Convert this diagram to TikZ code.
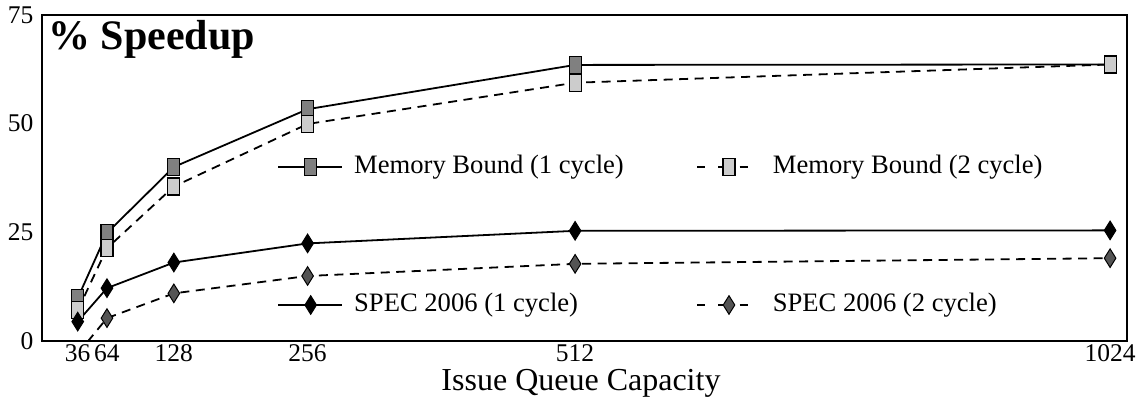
\documentclass[tikz,border=0pt]{standalone}
\usepackage{fontspec}
\setmainfont{Liberation Serif}
\usetikzlibrary{shapes.geometric}
\definecolor{sqdark}{gray}{0.5}
\definecolor{sqlight}{gray}{0.8}
\definecolor{dmdark}{gray}{0.33}
\tikzset{
  solidser/.style={line width=1.8pt, line join=round},
  dashser/.style={line width=1.8pt, dash pattern=on 9pt off 6.5pt},
  legdash/.style={line width=1.8pt, dash pattern=on 8.3pt off 13pt},
  sqmark/.style={rectangle, draw=black, line width=1.2pt, minimum width=12pt,
                 minimum height=17pt, inner sep=0pt},
  sqone/.style={sqmark, fill=sqdark},
  sqtwo/.style={sqmark, fill=sqlight},
  dmmark/.style={diamond, draw=black, line width=1pt, minimum width=12pt,
                 minimum height=19pt, inner sep=0pt},
  dmone/.style={dmmark, fill=black},
  dmtwo/.style={dmmark, fill=dmdark},
  ticklbl/.style={font=\fontsize{25.5}{29}\selectfont, inner sep=0pt},
  leglbl/.style={font=\fontsize{26.6}{30}\selectfont, anchor=west, inner sep=0pt},
  frameline/.style={line width=2pt}
}
\begin{document}
\begin{tikzpicture}[x=1pt,y=1pt]
\useasboundingbox[fill=white] (0,0) rectangle (1145,404);

% plot frame corners
\coordinate (fsw) at (41.7,63.3);
\coordinate (fne) at (1126.7,389);

\begin{scope}
\clip (fsw) rectangle (fne);
\begin{scope}[shift={(40.1,63.3)}, x=1.0449pt, y=4.343pt]
  % Memory Bound (1 cycle)
  \coordinate (ma1) at (36,9.8);
  \coordinate (ma2) at (64,24.8);
  \coordinate (ma3) at (128,40.0);
  \coordinate (ma4) at (256,53.3);
  \coordinate (ma5) at (512,63.5);
  \coordinate (ma6) at (1024,63.6);
  % Memory Bound (2 cycle)
  \coordinate (mb1) at (36,7.0);
  \coordinate (mb2) at (64,21.3);
  \coordinate (mb3) at (128,35.5);
  \coordinate (mb4) at (256,49.9);
  \coordinate (mb5) at (512,59.4);
  \coordinate (mb6) at (1024,63.6);
  % SPEC 2006 (1 cycle)
  \coordinate (sa1) at (36,4.4);
  \coordinate (sa2) at (64,12.1);
  \coordinate (sa3) at (128,18.0);
  \coordinate (sa4) at (256,22.4);
  \coordinate (sa5) at (512,25.3);
  \coordinate (sa6) at (1024,25.4);
  % SPEC 2006 (2 cycle)
  \coordinate (sb1) at (36,-3.0);
  \coordinate (sb2) at (64,5.2);
  \coordinate (sb3) at (128,10.9);
  \coordinate (sb4) at (256,14.9);
  \coordinate (sb5) at (512,17.7);
  \coordinate (sb6) at (1024,19.0);

  % series lines
  \draw[solidser] (ma1) -- (ma2) -- (ma3) -- (ma4) -- (ma5) -- (ma6);
  \draw[dashser]  (mb1) -- (mb2) -- (mb3) -- (mb4) -- (mb5) -- (mb6);
  \draw[solidser] (sa1) -- (sa2) -- (sa3) -- (sa4) -- (sa5) -- (sa6);
  \draw[dashser]  (sb1) -- (sb2) -- (sb3) -- (sb4) -- (sb5) -- (sb6);

  % markers
  \foreach \p in {ma1,ma2,ma3,ma4,ma5,ma6} \node[sqone] (k\p) at (\p) {};
  \foreach \p in {mb1,mb2,mb3,mb4,mb5,mb6} \node[sqtwo] (k\p) at (\p) {};
  \foreach \p in {sb1,sb2,sb3,sb4,sb5,sb6} \node[dmtwo] (k\p) at (\p) {};
  \foreach \p in {sa1,sa2,sa3,sa4,sa5,sa6} \node[dmone] (k\p) at (\p) {};
\end{scope}
\end{scope}

% frame
\draw[frameline] (fsw) rectangle (fne);

% axis tick labels
\begin{scope}[shift={(40.1,63.3)}, x=1.0449pt, y=4.343pt]
  \foreach \v in {0,25,50,75}
    \node[ticklbl, anchor=east, xshift=-6.6pt] (yl\v) at (0,\v) {\v};
  \foreach \c in {36,64,128,256,512,1024}
    \node[ticklbl, anchor=base, yshift=-21.2pt] (xl\c) at (\c,0) {\c};
\end{scope}

% axis title and heading
\node[font=\fontsize{32}{36}\selectfont, anchor=base, inner sep=0pt,
      text height=21pt, text depth=7pt] (xtitle) at (581,13.5) {Issue Queue Capacity};
\node[font=\fontsize{42}{46}\selectfont\bfseries, anchor=base west, inner sep=0pt] (ytitle) at (48,354) {\% Speedup};

% legend
\coordinate (lgAa) at (278.3,237.3);
\coordinate (lgAb) at (341.7,237.3);
\draw[solidser] (lgAa) -- (lgAb);
\node[sqone] (lgAm) at (310.7,237.3) {};
\node[leglbl] (lgAt) at (354,237.3) {Memory Bound (1 cycle)};

\coordinate (lgBa) at (697,237.3);
\coordinate (lgBb) at (750,237.3);
\draw[legdash] (lgBa) -- (lgBb);
\node[sqtwo] (lgBm) at (729,237.3) {};
\node[leglbl] (lgBt) at (772.7,237.3) {Memory Bound (2 cycle)};

\coordinate (lgCa) at (278.3,99);
\coordinate (lgCb) at (341.7,99);
\draw[solidser] (lgCa) -- (lgCb);
\node[dmone] (lgCm) at (310.7,99) {};
\node[leglbl] (lgCt) at (354,99) {SPEC 2006 (1 cycle)};

\coordinate (lgDa) at (697,99);
\coordinate (lgDb) at (750,99);
\draw[legdash] (lgDa) -- (lgDb);
\node[dmtwo] (lgDm) at (729,99) {};
\node[leglbl] (lgDt) at (772.7,99) {SPEC 2006 (2 cycle)};
\end{tikzpicture}
\end{document}
